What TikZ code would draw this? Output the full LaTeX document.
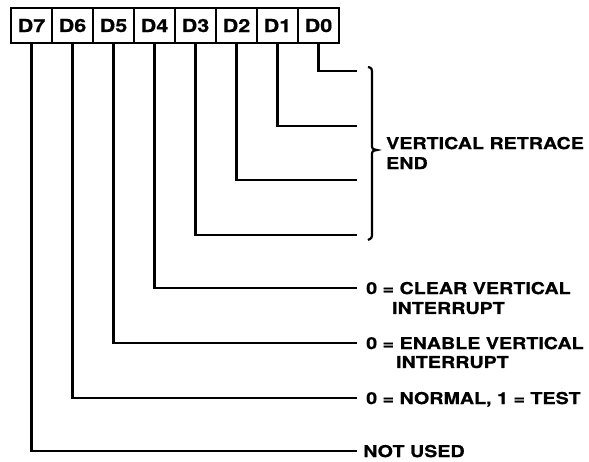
\documentclass[tikz,border=0pt]{standalone}
\usepackage{fontspec}
\newfontfamily\regfont{TeX Gyre Heros}[FakeStretch=1.2,FakeBold=0.6]
\usetikzlibrary{positioning}

\begin{document}
\begin{tikzpicture}[x=1pt,y=-1pt,
    wire/.style={line width=2.2pt},
    cell/.style={draw,line width=2.2pt,minimum width=41pt,minimum height=35pt,
        inner sep=0pt,outer sep=0pt,font=\regfont\bfseries\fontsize{18}{18}\selectfont},
    lbl/.style={anchor=west,inner xsep=9pt,inner ysep=0pt,text depth=0pt,
        font=\regfont\bfseries\fontsize{16.4}{20}\selectfont}]
    \useasboundingbox (0,0) rectangle (589,461);

    % Register cells
    \node[cell] (d7) at (31.5,25.5) {D7};
    \foreach \i/\j in {6/7,5/6,4/5,3/4,2/3,1/2,0/1}
        \node[cell,right=0pt of d\j] (d\i) {D\i};

    % Retrace field: bits 0-3
    \foreach \i/\y in {0/71,1/126,2/180,3/235}
        \coordinate (e\i) at (357,\y);
    \foreach \i in {0,...,3}
        \draw[wire] (d\i.south) |- (e\i);

    % Brace and its label
    \draw[wire] (368,67) .. controls (372,68) .. (372,76) -- (372,144)
        .. controls (372,149) .. (377,150) .. controls (372,151) .. (372,156)
        -- (372,232) .. controls (372,238) .. (368,240);
    \node[lbl,inner xsep=0pt,align=left] (vre) at (386,153) {VERTICAL RETRACE\\END};

    % Single-bit fields
    \node[lbl] (l4) at (357,288) {0 = CLEAR VERTICAL};
    \node[lbl] (l4b) at (383,308) {INTERRUPT};
    \node[lbl] (l5) at (357,343) {0 = ENABLE VERTICAL};
    \node[lbl] (l5b) at (387,362) {INTERRUPT};
    \node[lbl] (l6) at (357,398) {0 = NORMAL, 1 = TEST};
    \node[lbl,inner xsep=6pt] (l7) at (357,451) {NOT USED};

    \foreach \i in {4,...,7}
        \draw[wire] (d\i.south) |- (l\i.west);
\end{tikzpicture}
\end{document}
